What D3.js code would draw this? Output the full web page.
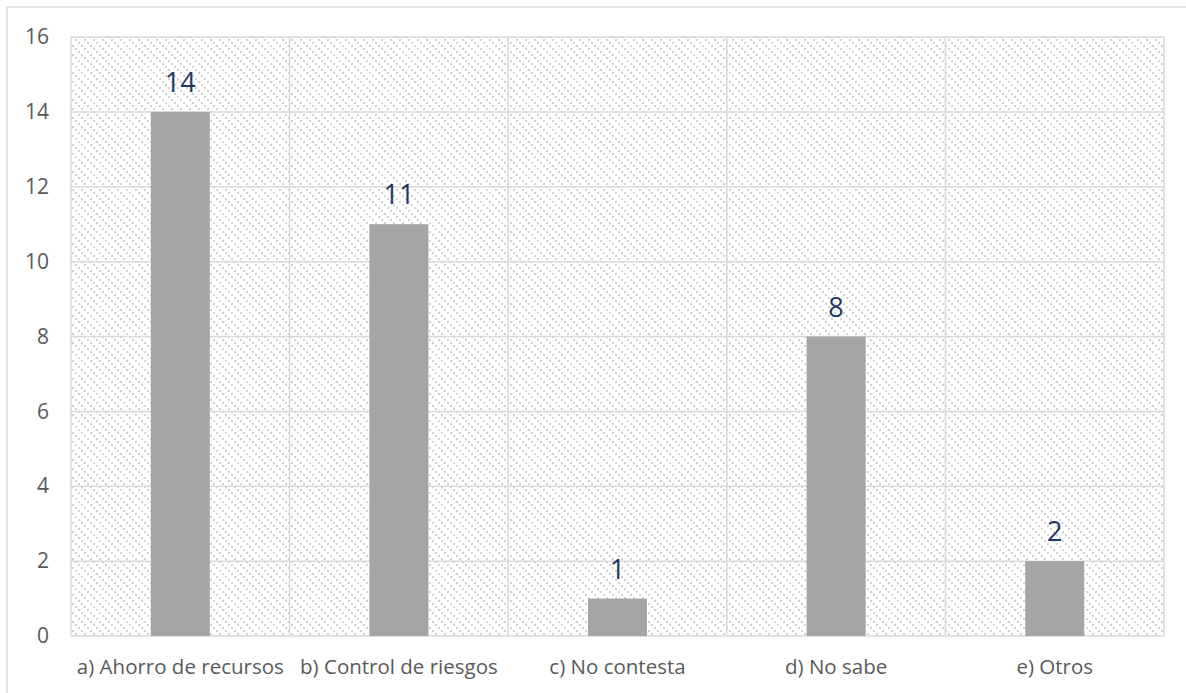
<!DOCTYPE html>
<html>
<head>
<meta charset="utf-8">
<script src="https://cdn.jsdelivr.net/npm/d3@7/dist/d3.min.js"></script>
<style>
  html, body { margin: 0; padding: 0; background: #ffffff; }
  svg { display: block; font-family: "Open Sans", "Noto Sans", sans-serif; }
</style>
</head>
<body>
<svg id="chart" width="1186" height="693"></svg>
<script>
// Survey answers and their counts
const categories = ["a) Ahorro de recursos", "b) Control de riesgos", "c) No contesta", "d) No sabe", "e) Otros"];
const counts = [14, 11, 1, 8, 2];
const yTicks = [0, 2, 4, 6, 8, 10, 12, 14, 16];

const svg = d3.select("#chart");
const W = 1186, H = 693;
const plot = { left: 71, right: 1164, top: 37, bottom: 636 };

// Outer chart frame
svg.append("rect")
  .attr("x", 7).attr("y", 7)
  .attr("width", W + 20).attr("height", H + 20)
  .attr("fill", "#ffffff")
  .attr("stroke", "#d9d9d9").attr("stroke-width", 1.5);

// Downward diagonal hatch fill for the plot area
const defs = svg.append("defs");
const pat = defs.append("pattern")
  .attr("id", "hatch")
  .attr("patternUnits", "userSpaceOnUse")
  .attr("width", 9).attr("height", 9);
pat.append("rect").attr("width", 9).attr("height", 9).attr("fill", "#ffffff");
[[0, 0], [3, 3], [6, 6]].forEach(([px, py]) => {
  pat.append("rect")
    .attr("x", px).attr("y", py)
    .attr("width", 2).attr("height", 2)
    .attr("fill", "#d2d2d2");
});

const x = d3.scaleBand()
  .domain(categories)
  .range([plot.left, plot.right])
  .paddingInner(0).paddingOuter(0);

const y = d3.scaleLinear()
  .domain([0, 16])
  .range([plot.bottom, plot.top]);

svg.append("rect")
  .attr("x", plot.left).attr("y", plot.top)
  .attr("width", plot.right - plot.left)
  .attr("height", plot.bottom - plot.top)
  .attr("fill", "url(#hatch)");

// Horizontal gridlines
svg.append("g")
  .selectAll("line")
  .data(yTicks)
  .join("line")
  .attr("x1", plot.left).attr("x2", plot.right)
  .attr("y1", d => y(d)).attr("y2", d => y(d))
  .attr("stroke", "#d9d9d9").attr("stroke-width", 1.5);

// Vertical gridlines at category boundaries
const bounds = categories.map(c => x(c)).concat([plot.right]);
svg.append("g")
  .selectAll("line")
  .data(bounds)
  .join("line")
  .attr("x1", d => d).attr("x2", d => d)
  .attr("y1", plot.top).attr("y2", plot.bottom)
  .attr("stroke", "#d9d9d9").attr("stroke-width", 1.5);

// Bars
const barW = x.bandwidth() * 0.27;
svg.append("g")
  .selectAll("rect")
  .data(categories)
  .join("rect")
  .attr("x", (c) => x(c) + x.bandwidth() / 2 - barW / 2)
  .attr("y", (c, i) => y(counts[i]))
  .attr("width", barW)
  .attr("height", (c, i) => y(0) - y(counts[i]))
  .attr("fill", "#a5a5a5");

// Value labels above the bars
svg.append("g")
  .selectAll("text")
  .data(categories)
  .join("text")
  .attr("x", c => x(c) + x.bandwidth() / 2)
  .attr("y", (c, i) => y(counts[i]) - 20)
  .attr("text-anchor", "middle")
  .attr("font-size", 27)
  .attr("fill", "#203864")
  .text((c, i) => counts[i]);

// Y axis labels
const yAxis = d3.axisLeft(y).tickValues(yTicks).tickSize(0).tickPadding(0);
const gy = svg.append("g")
  .attr("transform", `translate(49,0)`)
  .call(yAxis);
gy.select(".domain").remove();
gy.selectAll("text")
  .attr("font-family", "Open Sans, sans-serif")
  .attr("font-size", 21)
  .attr("fill", "#595959");

// X axis labels
const xAxis = d3.axisBottom(x).tickSize(0).tickPadding(0);
const gx = svg.append("g")
  .attr("transform", `translate(0,${plot.bottom})`)
  .call(xAxis);
gx.select(".domain").remove();
gx.selectAll("text")
  .attr("dy", null)
  .attr("y", 38)
  .attr("font-family", "Open Sans, sans-serif")
  .attr("font-size", 20.5)
  .attr("fill", "#595959");
</script>
</body>
</html>
